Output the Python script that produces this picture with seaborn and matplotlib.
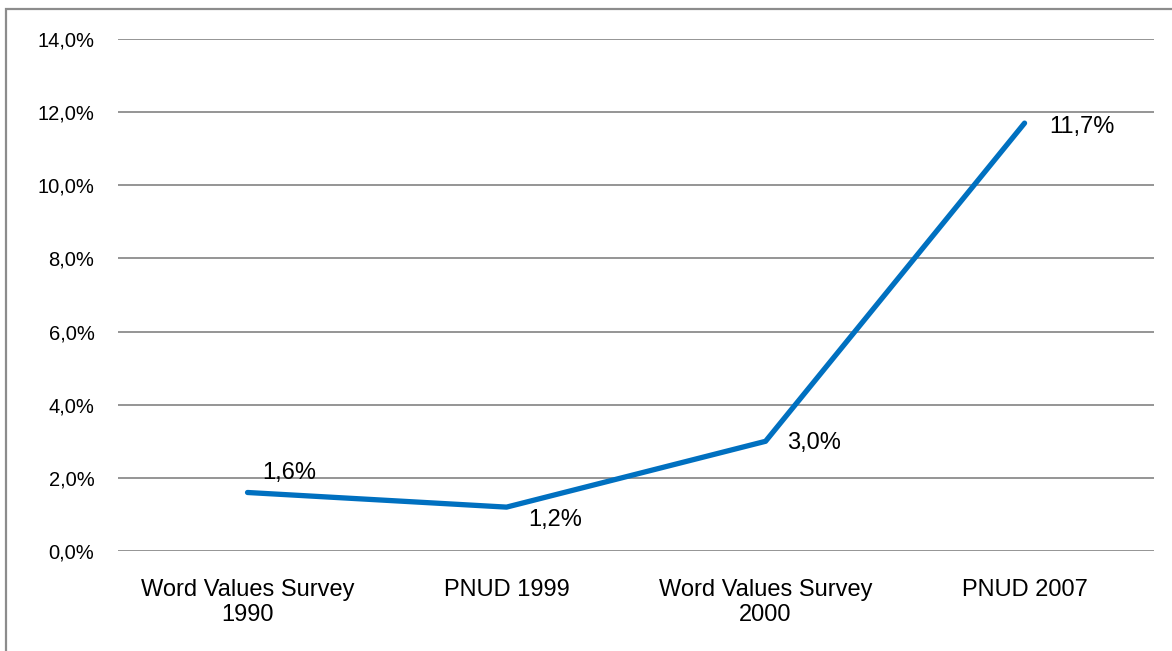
import matplotlib
matplotlib.use("Agg")
import matplotlib.pyplot as plt
import seaborn as sns
import pandas as pd
from matplotlib.patches import Rectangle

# --- données
categories = ["Word Values Survey\n1990", "PNUD 1999", "Word Values Survey\n2000", "PNUD 2007"]
values = [1.6, 1.2, 3.0, 11.7]
value_labels = ["1,6%", "1,2%", "3,0%", "11,7%"]
y_ticks = [0, 2, 4, 6, 8, 10, 12, 14]
y_tick_labels = ["0,0%", "2,0%", "4,0%", "6,0%", "8,0%", "10,0%", "12,0%", "14,0%"]

sns.set_style("white")
plt.rcParams['font.family'] = ['Liberation Sans', 'DejaVu Sans']

df = pd.DataFrame({"x": range(len(categories)), "val": values})

fig = plt.figure(figsize=(11.72, 6.51), dpi=100)
ax = fig.add_axes([0.1007, 0.1536, 0.884, 0.7865])

# cadre extérieur (coupé à droite et en bas, comme sur l'original)
fig.patches.append(Rectangle((6 / 1172, -0.05), 1.2, 1.05 - 9 / 651,
                             transform=fig.transFigure, fill=False,
                             edgecolor="#8c8c8c", linewidth=1.6))

for y in y_ticks:
    ax.axhline(y, color="#8c8c8c", linewidth=1.3, zorder=1)

sns.lineplot(data=df, x="x", y="val", ax=ax, color="#0070C0", linewidth=3.8,
             solid_capstyle="round", zorder=3)

# étiquettes de données
offsets = [(30, 14), (35, -9), (35, -1), (41, -3)]
for i, (v, lab) in enumerate(zip(values, value_labels)):
    ax.annotate(lab, (i, v), xytext=offsets[i], textcoords="offset points",
                ha="center", va="center", fontsize=17, color="black")

ax.set_xlim(-0.5, len(categories) - 0.5)
ax.set_ylim(0, 14)
ax.set_yticks(y_ticks)
ax.set_yticklabels(y_tick_labels, fontsize=14.5, color="black")
ax.set_xticks(range(len(categories)))
ax.set_xticklabels(categories, fontsize=17, linespacing=1.2, color="black")
ax.tick_params(axis="x", length=0, pad=20)
ax.tick_params(axis="y", length=0, pad=17)
ax.set_xlabel("")
ax.set_ylabel("")
for s in ax.spines.values():
    s.set_visible(False)

fig.savefig("out.png", dpi=100)
